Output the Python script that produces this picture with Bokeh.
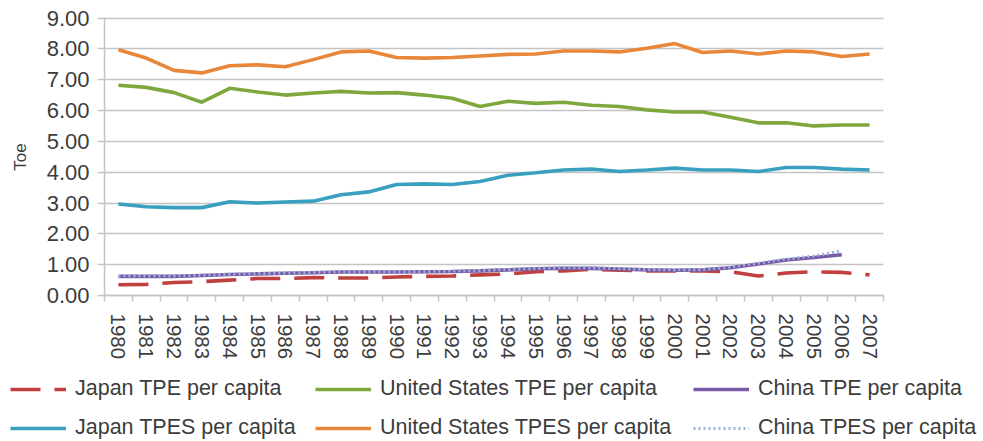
from bokeh.plotting import figure
from bokeh.models import Range1d, FixedTicker, NumeralTickFormatter, Legend, LegendItem
from bokeh.embed import file_html
from bokeh.resources import INLINE

years = list(range(1980, 2008))
years_china = list(range(1980, 2007))

japan_tpe = [0.35, 0.36, 0.42, 0.45, 0.50, 0.55, 0.55, 0.58, 0.57, 0.57, 0.60, 0.62, 0.63, 0.67,
             0.70, 0.77, 0.80, 0.85, 0.82, 0.80, 0.80, 0.80, 0.77, 0.63, 0.73, 0.77, 0.75, 0.67]
us_tpe = [6.82, 6.75, 6.58, 6.27, 6.72, 6.60, 6.50, 6.57, 6.62, 6.57, 6.58, 6.50, 6.40, 6.13,
          6.30, 6.23, 6.27, 6.17, 6.13, 6.02, 5.95, 5.95, 5.78, 5.60, 5.60, 5.50, 5.53, 5.53]
china_tpe = [0.62, 0.62, 0.62, 0.65, 0.68, 0.70, 0.72, 0.74, 0.76, 0.76, 0.76, 0.77, 0.78, 0.80,
             0.83, 0.87, 0.88, 0.88, 0.86, 0.83, 0.82, 0.83, 0.90, 1.02, 1.15, 1.23, 1.32]
japan_tpes = [2.97, 2.88, 2.85, 2.85, 3.04, 3.00, 3.03, 3.06, 3.27, 3.36, 3.60, 3.62, 3.60, 3.70,
              3.90, 3.98, 4.07, 4.10, 4.02, 4.07, 4.13, 4.07, 4.07, 4.02, 4.15, 4.15, 4.10, 4.07]
us_tpes = [7.97, 7.70, 7.30, 7.22, 7.45, 7.48, 7.42, 7.65, 7.90, 7.93, 7.72, 7.70, 7.72, 7.77,
           7.82, 7.83, 7.93, 7.93, 7.90, 8.02, 8.17, 7.88, 7.93, 7.83, 7.93, 7.90, 7.75, 7.83]
china_tpes = [0.63, 0.63, 0.63, 0.66, 0.69, 0.71, 0.73, 0.75, 0.77, 0.77, 0.77, 0.78, 0.79, 0.81,
              0.84, 0.88, 0.90, 0.90, 0.87, 0.84, 0.83, 0.84, 0.92, 1.05, 1.18, 1.28, 1.45]

y_ticks = [0, 1, 2, 3, 4, 5, 6, 7, 8, 9]

FONT = "Liberation Sans"
TXT = "#3c3c3c"
GRID = "#c4c4c4"

# Figure geometry (pixels): the frame fills the whole figure; the chart's axes sit at
# fixed locations inside it so the legend rows below the axis are not clipped.
W_FIG, H_FIG = 980, 440
PLOT_L, PLOT_R, PLOT_T, PLOT_B = 104, 883, 17.5, 295
X0, X1 = years[0] - 0.5, years[-1] + 0.5
Y0, Y1 = y_ticks[0], y_ticks[-1]
xs = (PLOT_R - PLOT_L) / (X1 - X0)
ys = (PLOT_B - PLOT_T) / (Y1 - Y0)

p = figure(width=W_FIG, height=H_FIG, output_backend="svg", toolbar_location=None,
           x_range=Range1d(X0 - PLOT_L / xs, X1 + (W_FIG - PLOT_R) / xs),
           y_range=Range1d(Y0 - (H_FIG - PLOT_B) / ys, Y1 + PLOT_T / ys),
           min_border=0)
p.outline_line_color = None
p.grid.visible = False

# y axis: pinned at the left plot edge; long inward ticks form the horizontal gridlines
ya = p.yaxis[0]
ya.level = "underlay"
ya.fixed_location = X0
ya.bounds = (Y0, Y1)
ya.ticker = FixedTicker(ticks=y_ticks)
ya.formatter = NumeralTickFormatter(format="0.00")
ya.axis_line_color = GRID
ya.axis_line_width = 1.5
ya.major_tick_line_color = GRID
ya.major_tick_line_width = 1.5
ya.major_tick_out = 7
ya.major_tick_in = PLOT_R - PLOT_L
ya.minor_tick_line_color = None
ya.major_label_standoff = 8
ya.major_label_text_font = FONT
ya.major_label_text_font_size = "22px"
ya.major_label_text_color = TXT
ya.axis_label = "Toe"
ya.axis_label_text_font = FONT
ya.axis_label_text_font_size = "17px"
ya.axis_label_text_font_style = "normal"
ya.axis_label_text_color = TXT
ya.axis_label_standoff = 14

# x axis: pinned at y = 0, category-boundary ticks
xa = p.xaxis[0]
xa.level = "underlay"
xa.fixed_location = Y0
xa.bounds = (X0, X1)
xa.ticker = FixedTicker(ticks=years, minor_ticks=[y - 0.5 for y in years] + [years[-1] + 0.5])
xa.axis_line_color = GRID
xa.axis_line_width = 1.5
xa.major_tick_line_color = None
xa.major_tick_out = 0
xa.major_tick_in = 0
xa.minor_tick_line_color = GRID
xa.minor_tick_line_width = 1.5
xa.minor_tick_out = 6
xa.minor_tick_in = 0
xa.major_label_orientation = "vertical"
xa.major_label_standoff = 12
xa.major_label_text_font = FONT
xa.major_label_text_font_size = "20.5px"
xa.major_label_text_color = TXT

r_jtpe = p.line(years, japan_tpe, line_color="#c0403e", line_width=3.6, line_dash="30 14")
r_utpe = p.line(years, us_tpe, line_color="#7ea83e", line_width=3.6)
r_ctpe = p.line(years_china, china_tpe, line_color="#7a5aa6", line_width=3.6)
r_jtpes = p.line(years, japan_tpes, line_color="#3aa0bf", line_width=3.6)
r_utpes = p.line(years, us_tpes, line_color="#e8873a", line_width=3.6)
r_ctpes = p.line(years_china, china_tpes, line_color="#9bb3e0", line_width=3, line_dash="2 3")

def add_legend(items, x):
    leg = Legend(items=[LegendItem(label=l, renderers=[r]) for l, r in items],
                 location=(x, 0), orientation="vertical",
                 border_line_color=None, background_fill_alpha=0, padding=0, margin=0,
                 spacing=14, glyph_width=56, glyph_height=24, label_height=24,
                 label_standoff=9, label_text_font=FONT, label_text_font_size="21.5px",
                 label_text_color=TXT)
    p.add_layout(leg, "center")

add_legend([("Japan TPE per capita", r_jtpe), ("Japan TPES per capita", r_jtpes)], 10)
add_legend([("United States TPE per capita", r_utpe),
            ("United States TPES per capita", r_utpes)], 315)
add_legend([("China TPE per capita", r_ctpe), ("China TPES per capita", r_ctpes)], 693)

open("out.html", "w").write(file_html(p, INLINE))
